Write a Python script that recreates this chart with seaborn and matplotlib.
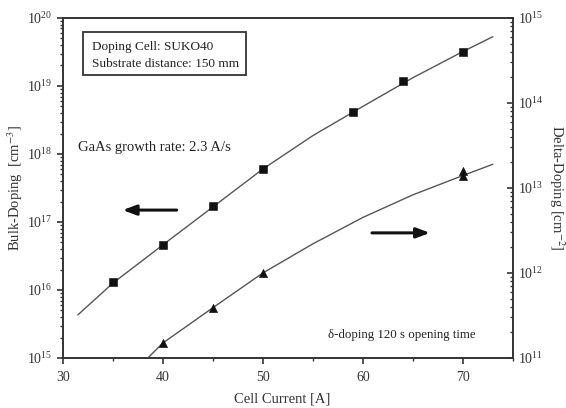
import numpy as np
import matplotlib
matplotlib.use("Agg")
import matplotlib.pyplot as plt
import matplotlib.ticker as mticker
from matplotlib.patches import Rectangle
import seaborn as sns

# ==========================================================
# DATA
# ==========================================================

bulk_current = [35, 40, 45, 50, 59, 64, 70]
bulk_doping = [1.3e16, 4.6e16, 1.7e17, 6.0e17, 4.2e18, 1.2e19, 3.2e19]

bulk_fit_current = [31.5, 35, 40, 45, 50, 55, 60, 65, 70, 73]
bulk_fit_doping = [4.3e15, 1.26e16, 4.6e16, 1.66e17, 6.0e17, 1.86e18, 5.0e18, 1.32e19, 3.2e19, 5.3e19]

delta_current = [40, 45, 50, 70, 70]
delta_doping = [1.5e11, 3.9e11, 1.0e12, 1.4e13, 1.6e13]

delta_fit_current = [38.5, 40, 45, 50, 55, 60, 65, 70, 73]
delta_fit_doping = [1.0e11, 1.5e11, 3.9e11, 1.0e12, 2.2e12, 4.5e12, 8.3e12, 1.4e13, 1.9e13]

# ==========================================================
# STYLE
# ==========================================================

sns.set_style("ticks")
plt.rcParams["font.family"] = ["Liberation Serif", "DejaVu Serif"]
plt.rcParams["mathtext.fontset"] = "stix"

fig = plt.figure(figsize=(5.66, 4.08), dpi=100)
ax = fig.add_axes([0.111, 0.1225, 0.795, 0.8335])

line_color = "#555555"
mark_color = "#111111"
axis_color = "#333333"
text_color = "#222222"

# ==========================================================
# BULK DOPING (LEFT AXIS)
# ==========================================================

sns.lineplot(x=bulk_fit_current, y=bulk_fit_doping, ax=ax,
             color=line_color, linewidth=1.0, sort=True)
sns.scatterplot(x=bulk_current, y=bulk_doping, ax=ax, marker="s",
                s=28, color=mark_color, edgecolor=mark_color, zorder=3)

ax.set_yscale("log")
ax.set_xlim(30, 75)
ax.set_ylim(1e15, 1e20)
ax.set_xticks([30, 40, 50, 60, 70])
ax.xaxis.set_minor_locator(mticker.FixedLocator([35, 45, 55, 65, 75]))
ax.yaxis.set_minor_locator(mticker.LogLocator(base=10, subs=np.arange(2, 10), numticks=20))
ax.yaxis.set_minor_formatter(mticker.NullFormatter())
ax.set_xlabel("Cell Current [A]", fontsize=10.5, color=axis_color)
ax.set_ylabel("Bulk-Doping  [cm$^{-3}$]", fontsize=10.5, color=axis_color)
ax.xaxis.set_label_coords(0.487, -0.10)
ax.yaxis.set_label_coords(-0.085, 0.5)
ax.tick_params(axis="both", which="major", direction="out", labelsize=10,
               length=4, width=1.2, colors=axis_color)
ax.tick_params(axis="x", which="major", pad=5)
ax.tick_params(axis="both", which="minor", direction="out", length=2.5,
               width=1.0, color=axis_color)
ax.tick_params(axis="y", which="both", right=False)

# ==========================================================
# DELTA DOPING (RIGHT AXIS)
# ==========================================================

ax2 = ax.twinx()
ax2.patch.set_visible(False)
sns.lineplot(x=delta_fit_current, y=delta_fit_doping, ax=ax2,
             color=line_color, linewidth=1.0, sort=True)
sns.scatterplot(x=delta_current, y=delta_doping, ax=ax2, marker="^",
                s=34, color=mark_color, edgecolor=mark_color, zorder=3)
ax2.set_yscale("log")
ax2.set_ylim(1e11, 1e15)
ax2.set_xlim(30, 75)
ax2.yaxis.set_minor_locator(mticker.LogLocator(base=10, subs=np.arange(2, 10), numticks=20))
ax2.yaxis.set_minor_formatter(mticker.NullFormatter())
ax2.set_ylabel("Delta-Doping [cm$^{-2}$]", fontsize=10.5, color=axis_color,
               rotation=270, labelpad=17)
ax2.tick_params(axis="y", which="major", direction="in", labelsize=10,
                length=4, width=1.2, colors=axis_color)
ax2.tick_params(axis="y", which="minor", direction="in", length=2.5,
                width=1.0, color=axis_color)

for a in (ax, ax2):
    for spine in a.spines.values():
        spine.set_visible(True)
        spine.set_linewidth(1.2)
        spine.set_color(axis_color)

# ==========================================================
# ANNOTATIONS
# ==========================================================

ax.add_patch(Rectangle((0.044, 0.832), 0.364, 0.126, transform=ax.transAxes,
                       facecolor="white", edgecolor=axis_color,
                       linewidth=1.3, zorder=4))
ax.text(0.064, 0.915, "Doping Cell: SUKO40", transform=ax.transAxes,
        fontsize=9.5, va="center", ha="left", color=text_color, zorder=5)
ax.text(0.064, 0.864, "Substrate distance: 150 mm", transform=ax.transAxes,
        fontsize=9.5, va="center", ha="left", color=text_color, zorder=5)

ax.text(0.033, 0.62, "GaAs growth rate: 2.3 A/s", transform=ax.transAxes,
        fontsize=10.5, va="center", ha="left", color=text_color)

ax.annotate("", xy=(0.133, 0.435), xytext=(0.253, 0.435),
            xycoords="axes fraction",
            arrowprops=dict(arrowstyle="-|>,head_length=0.8,head_width=0.3",
                            color="#111111", linewidth=2.2,
                            shrinkA=0, shrinkB=0))
ax.annotate("", xy=(0.816, 0.368), xytext=(0.687, 0.368),
            xycoords="axes fraction",
            arrowprops=dict(arrowstyle="-|>,head_length=0.8,head_width=0.3",
                            color="#111111", linewidth=2.2,
                            shrinkA=0, shrinkB=0))

ax.text(0.589, 0.068, "\u03b4-doping 120 s opening time",
        transform=ax.transAxes, fontsize=9.3, va="center", ha="left",
        color=text_color)

fig.savefig("out.png", dpi=100)
